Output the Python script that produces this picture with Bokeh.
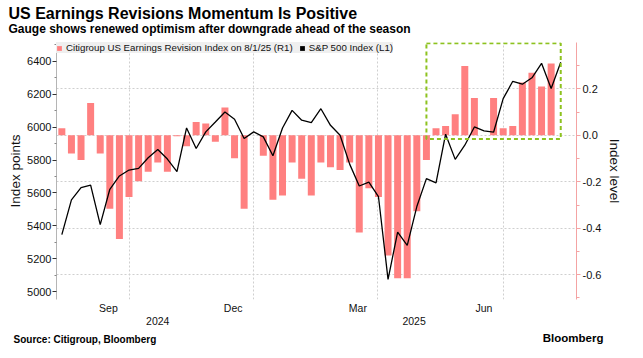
import math
import pandas as pd
from bokeh.plotting import figure
from bokeh.models import (ColumnDataSource, Range1d, LinearAxis, DatetimeAxis, FixedTicker,
                          Grid, Legend, LegendItem, Label, BoxAnnotation, NumeralTickFormatter, Title)
from bokeh.embed import file_html
from bokeh.resources import INLINE

# ---------------- data ----------------
first_week = "2024-07-14"
n_weeks = 53
sp500 = [5346, 5558, 5632, 5647, 5407, 5622, 5703, 5739, 5749, 5814,
         5864, 5806, 5729, 5995, 5870, 5971, 6031, 6092, 6048, 5931,
         5971, 5941, 5826, 5995, 6102, 6042, 6028, 6112, 6011, 5951,
         5775, 5642, 5665, 5578, 5074, 5362, 5281, 5517, 5687, 5661,
         5957, 5804, 5890, 6001, 5977, 5969, 6173, 6279, 6261, 6300,
         6388, 6235, 6394]
revision = [0.031, -0.078, -0.106, 0.139, -0.078, -0.316, -0.446, -0.266, -0.198, -0.157,
            -0.117, -0.157, -0.004, -0.047, 0.058, 0.051, -0.028, 0.120, -0.099, -0.316,
            0.0, -0.088, -0.277, -0.259, -0.117, -0.187, -0.259, -0.117, -0.137, -0.149,
            -0.117, -0.418, -0.228, -0.266, -0.517, -0.616, -0.616, -0.327, -0.106, 0.031,
            0.040, 0.091, 0.299, 0.161, 0.0, 0.161, 0.031, 0.040, 0.228, 0.270,
            0.211, 0.310, float("nan")]

month_labels = ["Sep", "Dec", "Mar", "Jun"]
month_label_dates = ["2024-08-17", "2024-11-16", "2025-02-15", "2025-05-18"]
month_grid_dates = ["2024-09-01", "2024-12-01", "2025-03-01", "2025-06-01"]
year_labels = ["2024", "2025"]
year_label_dates = ["2024-09-22", "2025-03-28"]
left_ticks = [5000, 5200, 5400, 5600, 5800, 6000, 6200, 6400]
left_minor = [5100, 5300, 5500, 5700, 5900, 6100, 6300, 6500]
right_ticks = [-0.6, -0.4, -0.2, 0.0, 0.2]
right_minor = [-0.7, -0.5, -0.3, -0.1, 0.1, 0.3]
right_grid = [-0.6, -0.4, -0.2, 0.0, 0.2, 0.4]
highlight_first, highlight_last = 38, 52
highlight_bottom, highlight_top = -0.016, 0.397

title = "US Earnings Revisions Momentum Is Positive"
subtitle = "Gauge shows renewed optimism after downgrade ahead of the season"
bar_label = "Citigroup US Earnings Revision Index on 8/1/25 (R1)"
line_label = "S&P 500 Index (L1)"
source_txt = "Source: Citigroup, Bloomberg"
brand_txt = "Bloomberg"

# ---------------- build ----------------
dates = pd.date_range(first_week, periods=n_weeks, freq="7D")
src = ColumnDataSource(dict(date=dates, spx=sp500, rev=revision))

def ms(d):
    return int(pd.Timestamp(d).value // 10**6)

FONT = "Liberation Sans"
x_start = dates[0] - pd.Timedelta(days=3.9)
x_end = dates[-1] + pd.Timedelta(days=11.5)

p = figure(width=635, height=350, x_axis_type="datetime",
           x_range=Range1d(x_start, x_end), y_range=Range1d(4951.7, 6514.7),
           output_backend="svg", toolbar_location=None, title=None,
           min_border_left=56, min_border_right=59, min_border_top=42, min_border_bottom=49)
p.outline_line_color = None
p.background_fill_color = "white"
p.border_fill_color = "white"
p.extra_y_ranges = {"idx": Range1d(-0.707, 0.4)}

# titles
p.add_layout(Title(text=subtitle, align="left", offset=-48, standoff=14,
                   text_font=FONT, text_font_style="bold", text_font_size="12px",
                   text_color="black"), "above")
p.add_layout(Title(text=title, align="left", offset=-48, standoff=-18,
                   text_font=FONT, text_font_style="bold", text_font_size="16px",
                   text_color="black"), "above")

# grids
p.ygrid.visible = False
p.xgrid.ticker = FixedTicker(ticks=[ms(d) for d in month_grid_dates])
p.xgrid.grid_line_color = "#cfcfcf"
p.xgrid.grid_line_dash = "2 2"
hgrid = Grid(dimension=1, ticker=FixedTicker(ticks=right_grid), y_range_name="idx",
             grid_line_color="#cfcfcf", grid_line_dash="2 2")
p.add_layout(hgrid)

# glyphs
bar_w = 5.1 * 24 * 3600 * 1000
bars = p.vbar(x="date", top="rev", bottom=0, width=bar_w, source=src, y_range_name="idx",
              fill_color="#ff8080", line_color=None)
p.line(x="date", y="spx", source=src, line_color="black", line_width=1.3)
# zero-area swatch used only for the legend's black square
swatch = p.quad(left=[dates[0]], right=[dates[0]], top=[sp500[0]], bottom=[sp500[0]],
                fill_color="black", line_color=None)

box = BoxAnnotation(left=dates[highlight_first], right=dates[highlight_last],
                    bottom=highlight_bottom, top=highlight_top, y_range_name="idx",
                    fill_alpha=0, line_color="#8dc21f", line_alpha=1, line_width=2,
                    line_dash="4 3")
p.add_layout(box)

# left axis
ly = p.yaxis[0]
ly.ticker = FixedTicker(ticks=left_ticks, minor_ticks=left_minor)
ly.axis_label = "Index points"
ly.axis_label_text_font = FONT
ly.axis_label_text_font_size = "13.5px"
ly.axis_label_text_font_style = "normal"
ly.axis_label_text_color = "#111111"
ly.axis_label_standoff = 1
ly.major_label_text_font = FONT
ly.major_label_text_font_size = "11px"
ly.major_label_text_color = "#111111"
ly.major_label_standoff = 1
ly.major_tick_out = 4
ly.major_tick_in = 0
ly.minor_tick_out = 2
ly.minor_tick_in = 0
ly.axis_line_color = "#b5b5b5"
ly.major_tick_line_color = "#333333"
ly.minor_tick_line_color = "#888888"

# right axis
ry = LinearAxis(y_range_name="idx", ticker=FixedTicker(ticks=right_ticks, minor_ticks=right_minor),
                formatter=NumeralTickFormatter(format="0.0"))
ry.axis_label = "Index level"
ry.axis_label_text_font = FONT
ry.axis_label_text_font_size = "13.5px"
ry.axis_label_text_font_style = "normal"
ry.axis_label_text_color = "#111111"
ry.axis_label_standoff = 3
ry.major_label_text_font = FONT
ry.major_label_text_font_size = "11px"
ry.major_label_text_color = "#111111"
ry.major_label_standoff = 2
ry.major_tick_out = 4
ry.major_tick_in = 0
ry.minor_tick_out = 3
ry.minor_tick_in = 0
ry.axis_line_color = "#f4a3a3"
ry.major_tick_line_color = "#f4a3a3"
ry.minor_tick_line_color = "#f4a3a3"
p.add_layout(ry, "right")

# bottom axes
bx = p.xaxis[0]
bx.ticker = FixedTicker(ticks=[ms(d) for d in month_label_dates])
bx.major_label_overrides = {ms(d): t for d, t in zip(month_label_dates, month_labels)}
yx = DatetimeAxis(ticker=FixedTicker(ticks=[ms(d) for d in year_label_dates]))
yx.major_label_overrides = {ms(d): t for d, t in zip(year_label_dates, year_labels)}
for ax, so in ((bx, 2), (yx, 0)):
    ax.axis_line_color = None
    ax.major_tick_line_color = None
    ax.minor_tick_line_color = None
    ax.major_tick_out = 0
    ax.major_tick_in = 0
    ax.minor_tick_out = 0
    ax.minor_tick_in = 0
    ax.major_label_standoff = so
    ax.major_label_text_font = FONT
    ax.major_label_text_font_size = "10.5px"
    ax.major_label_text_color = "#111111"
p.add_layout(yx, "below")

# legend
legend = Legend(items=[LegendItem(label=bar_label, renderers=[bars]),
                       LegendItem(label=line_label, renderers=[swatch])],
                location="top_left", orientation="horizontal",
                glyph_width=6, glyph_height=6, label_standoff=4, spacing=6,
                padding=6, margin=0, label_height=8,
                label_text_font=FONT, label_text_font_size="9.7px", label_text_color="#111111",
                background_fill_color="#efefef", background_fill_alpha=1,
                border_line_color=None)
p.add_layout(legend)

# footer texts in a side panel (canvas units: pixels from the canvas top-left)
p.add_layout(Label(x=13, y=339, x_units="canvas", y_units="canvas", text=source_txt,
                   text_font=FONT, text_font_style="bold", text_font_size="10px",
                   text_baseline="alphabetic", text_color="black"), "below")
p.add_layout(Label(x=603, y=337.7, x_units="canvas", y_units="canvas", text=brand_txt,
                   text_font=FONT, text_font_style="bold", text_font_size="11.5px",
                   text_baseline="alphabetic", text_align="right", text_color="black"), "below")

open("out.html", "w").write(file_html(p, INLINE))
